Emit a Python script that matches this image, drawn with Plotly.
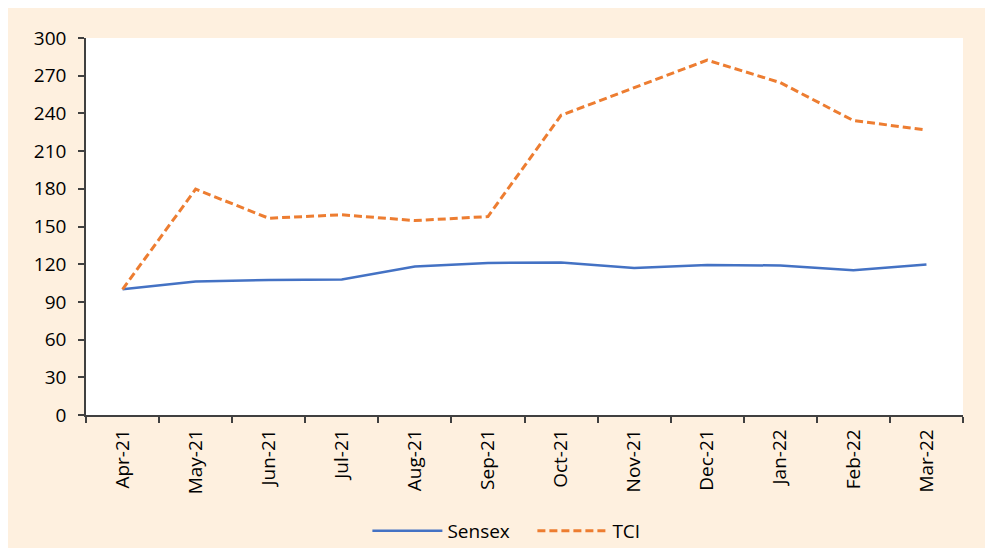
import plotly.graph_objects as go

months = ["Apr-21", "May-21", "Jun-21", "Jul-21", "Aug-21", "Sep-21",
          "Oct-21", "Nov-21", "Dec-21", "Jan-22", "Feb-22", "Mar-22"]
sensex = [100, 106.3, 107.5, 107.8, 118.2, 121.0, 121.4, 116.9, 119.3, 119.0, 115.1, 119.8]
tci = [100, 179.7, 156.6, 159.3, 154.7, 157.9, 238.5, 260.5, 282.4, 264.5, 234.3, 226.8]
yticks = [0, 30, 60, 90, 120, 150, 180, 210, 240, 270, 300]

W, H = 993, 548
ML, MR, MT, MB = 77.5, 38, 30, 140.5

cream = "#FEF0DF"
font = "Open Sans"

fig = go.Figure()
fig.add_trace(go.Scatter(x=months, y=sensex, name="Sensex", mode="lines",
                         line=dict(color="#4472C4", width=2.5)))
fig.add_trace(go.Scatter(x=months, y=tci, name="TCI", mode="lines",
                         line=dict(color="#ED7D31", width=3, dash="8px,4px")))

fig.update_layout(
    width=W, height=H,
    margin=dict(l=ML, r=MR, t=MT, b=MB, pad=0, autoexpand=False),
    paper_bgcolor=cream, plot_bgcolor="white",
    font=dict(family=font, size=19, color="#000000"),
    showlegend=True,
    legend=dict(orientation="h", x=0.509, xanchor="center",
                yref="container", y=1 - 523 / H, yanchor="middle",
                font=dict(size=19), bgcolor="rgba(0,0,0,0)",
                itemwidth=70, entrywidth=80, tracegroupgap=0),
    xaxis=dict(type="category", tickson="boundaries", ticks="outside", ticklen=6,
               tickcolor="#404040", tickwidth=1.5, showline=True, linecolor="#404040",
               linewidth=1.5, tickangle=-90, showgrid=False, zeroline=False,
               ticklabelstandoff=5, automargin=False, range=[-0.5, len(months) - 0.5]),
    yaxis=dict(range=[0, 300], tickvals=yticks, ticks="outside", ticklen=6,
               tickcolor="#404040", tickwidth=1.5, showline=True, linecolor="#404040",
               linewidth=1.5, showgrid=False, zeroline=False, ticklabelstandoff=8,
               automargin=False),
)

fig.write_html("out.html")
